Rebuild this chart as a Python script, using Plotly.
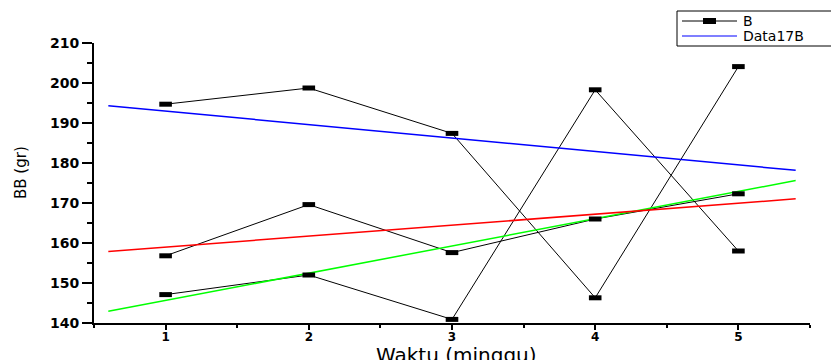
import numpy as np
import plotly.graph_objects as go

weeks = [1, 2, 3, 4, 5]
b1 = [194.7, 198.75, 187.4, 146.3, 204.1]
b2 = [147.1, 152.0, 140.9, 198.3, 158.0]
b3 = [156.8, 169.6, 157.6, 166.0, 172.3]
fit_range = [0.6, 5.4]
fit_colors = ["#0000ff", "#00ff00", "#ff0000"]
y_ticks = [140, 150, 160, 170, 180, 190, 200, 210]
legend_labels = ["B", "Data17B"]

# plot area in pixels (layout only)
L, R, T, B_ = 94, 810, 43, 323
W, H = 831, 360


def px(x):
    return (x - L) / (R - L)


def py(y):
    return (B_ - y) / (B_ - T)


fig = go.Figure()
series = [b1, b2, b3]
for s in series:
    fig.add_trace(go.Scatter(
        x=weeks, y=s, mode="lines", showlegend=False,
        line=dict(color="black", width=1),
    ))

for i, s in enumerate(series):
    k, c = np.polyfit(weeks, s, 1)
    xs = np.array(fit_range)
    fig.add_trace(go.Scatter(
        x=xs, y=k * xs + c, mode="lines", showlegend=False,
        line=dict(color=fit_colors[i], width=1.5),
    ))

for s in series:
    fig.add_trace(go.Scatter(
        x=weeks, y=s, mode="markers", showlegend=False,
        marker=dict(symbol="line-ew", size=9, color="black",
                    line=dict(color="black", width=5)),
    ))

# custom legend (Origin-style box, clipped at right edge)
shapes = [
    dict(type="rect", xref="paper", yref="paper",
         x0=px(677), x1=px(840), y0=py(46), y1=py(11),
         line=dict(color="black", width=1), fillcolor="white", layer="above"),
    dict(type="line", xref="paper", yref="paper",
         x0=px(682), x1=px(737), y0=py(21), y1=py(21),
         line=dict(color="black", width=1), layer="above"),
    dict(type="rect", xref="paper", yref="paper",
         x0=px(703), x1=px(716), y0=py(24), y1=py(18),
         line=dict(width=0), fillcolor="black", layer="above"),
    dict(type="line", xref="paper", yref="paper",
         x0=px(682), x1=px(737), y0=py(36), y1=py(36),
         line=dict(color="#0000ff", width=1.2), layer="above"),
]
for lbl, yy in zip(legend_labels, [20.5, 36]):
    fig.add_annotation(text=lbl, xref="paper", yref="paper",
                       x=px(742), y=py(yy), xanchor="left", yanchor="middle",
                       showarrow=False, borderpad=0,
                       font=dict(family="DejaVu Sans", size=14, color="black"))

ytickfont = dict(family="DejaVu Sans", size=14, color="black", weight="bold")
xtickfont = dict(family="DejaVu Sans", size=12, color="black", weight="bold")
fig.update_layout(
    width=W, height=H,
    margin=dict(l=L, r=W - R, t=T, b=H - B_, autoexpand=False),
    plot_bgcolor="white", paper_bgcolor="white",
    font=dict(family="DejaVu Sans", color="black"),
    showlegend=False,
    shapes=shapes,
    xaxis=dict(range=[0.5, 5.5], tickvals=weeks, showgrid=False, zeroline=False,
               showline=True, linecolor="black", linewidth=2,
               ticks="outside", ticklen=5, tickwidth=2, tickcolor="black",
               tickfont=xtickfont, ticklabelstandoff=-3,
               minor=dict(dtick=0.5, tick0=0.5, ticks="outside", ticklen=3,
                          tickwidth=2, tickcolor="black")),
    yaxis=dict(range=[140, 210], tickvals=y_ticks, showgrid=False, zeroline=False,
               showline=True, linecolor="black", linewidth=2,
               ticks="outside", ticklen=10, tickwidth=2, tickcolor="black",
               tickfont=ytickfont,
               minor=dict(dtick=5, ticks="outside", ticklen=5,
                          tickwidth=2, tickcolor="black")),
)
fig.add_annotation(text="BB (gr)", xref="paper", yref="paper",
                   x=px(21), y=py(173), xanchor="center", yanchor="middle",
                   textangle=-90, showarrow=False,
                   font=dict(family="DejaVu Sans", size=15, color="black"))
fig.add_annotation(text="Waktu (minggu)", xref="paper", yref="paper",
                   x=px(456), y=py(342), xanchor="center", yanchor="top",
                   showarrow=False, borderpad=0,
                   font=dict(family="DejaVu Sans", size=20, color="black"))
fig.write_html("out.html")
